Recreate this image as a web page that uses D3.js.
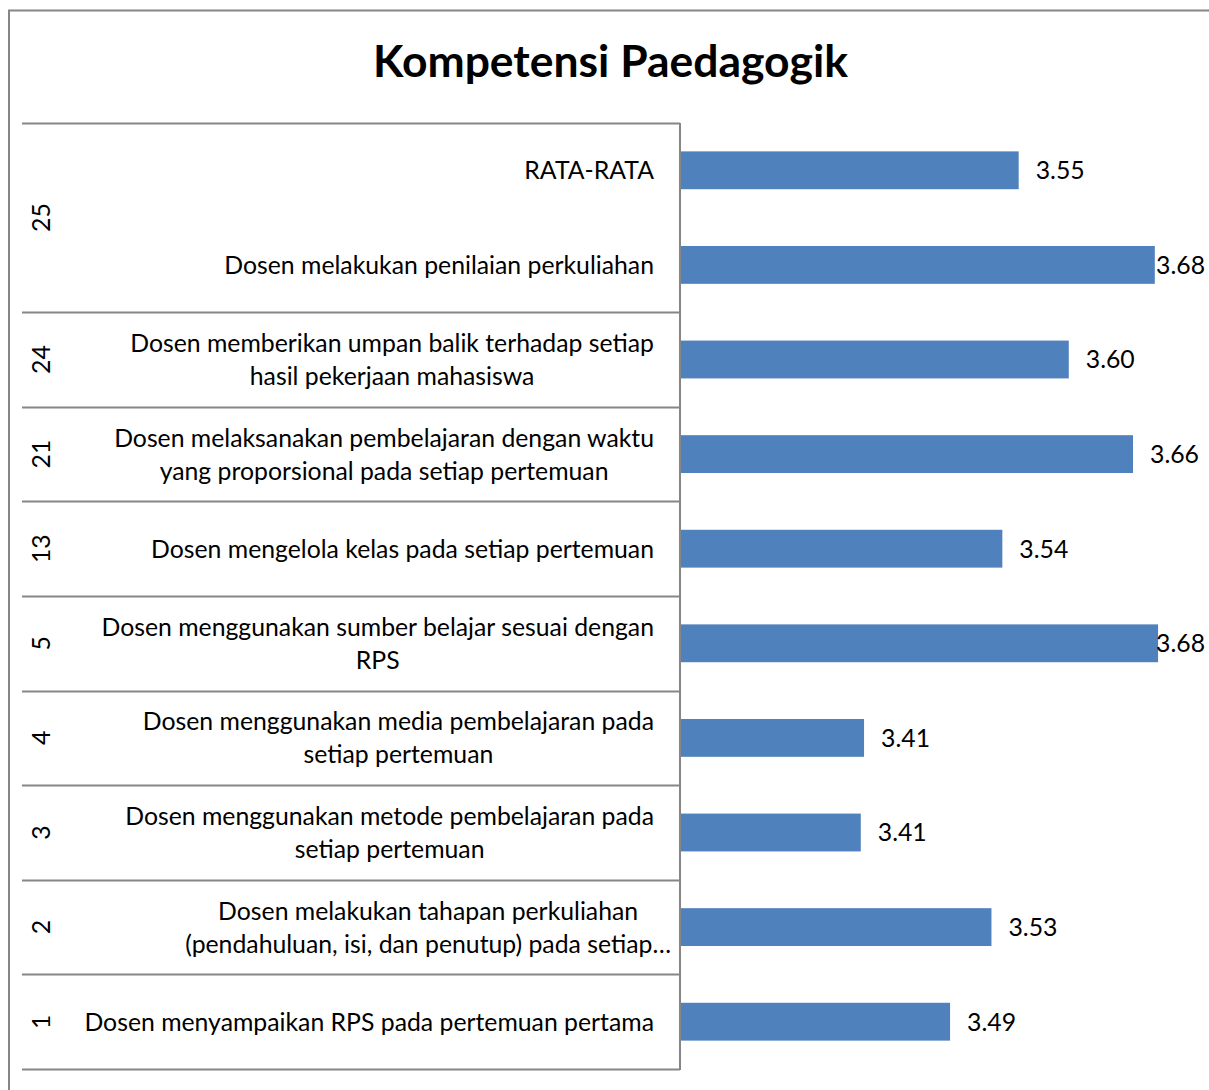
<!DOCTYPE html>
<html>
<head>
<meta charset="utf-8">
<script src="https://cdn.jsdelivr.net/npm/d3@7"></script>
<style>
  html, body { margin: 0; padding: 0; background: #fff; }
  svg { display: block; }
  text { font-family: Lato, "Open Sans", sans-serif; fill: #000; }
</style>
</head>
<body>
<svg id="chart" width="1209" height="1090"></svg>
<script>
// ---- data ----
const title = "Kompetensi Paedagogik";
const groupLabels = ["25", "25", "24", "21", "13", "5", "4", "3", "2", "1"];
const categoryLines = [
  ["RATA-RATA"],
  ["Dosen melakukan penilaian perkuliahan"],
  ["Dosen memberikan umpan balik terhadap setiap", "hasil pekerjaan mahasiswa"],
  ["Dosen melaksanakan pembelajaran dengan waktu", "yang proporsional pada setiap pertemuan"],
  ["Dosen mengelola kelas pada setiap pertemuan"],
  ["Dosen menggunakan sumber belajar sesuai dengan", "RPS"],
  ["Dosen menggunakan media pembelajaran pada", "setiap pertemuan"],
  ["Dosen menggunakan metode pembelajaran pada", "setiap pertemuan"],
  ["Dosen melakukan tahapan perkuliahan", "(pendahuluan, isi, dan penutup) pada setiap\u2026"],
  ["Dosen menyampaikan RPS pada pertemuan pertama"]
];
const values = [3.551, 3.676, 3.597, 3.656, 3.536, 3.679, 3.409, 3.406, 3.526, 3.488];
const xDomain = [3.24, 3.70];

// ---- layout ----
const svg = d3.select("#chart");
const W = 1209, H = 1090;
const plotLeft = 680, plotTop = 123, plotBottom = 1069;
const pxPerUnit = 1089;
const grey = "#868686";
const barColor = "#4F81BD";

// fit fonts (Calibri substitute)
function measure(str, size, weight) {
  const t = svg.append("text").attr("font-size", size).attr("font-weight", weight || "normal").text(str);
  const w = t.node().getComputedTextLength();
  t.remove();
  return w;
}
const labelSize = 20 * 570 / measure("Dosen menyampaikan RPS pada pertemuan pertama", 20);
const titleSize = 40 * 475 / measure(title, 40, "bold");
const capOff = labelSize * 0.36;

const ids = values.map((d, i) => i);
const y = d3.scaleBand().domain(ids).range([plotTop, plotBottom]).paddingInner(0.6).paddingOuter(0.3);
const x = d3.scaleLinear().domain(xDomain).range([plotLeft, plotLeft + (xDomain[1] - xDomain[0]) * pxPerUnit]);
const step = y.step();
const edge = i => y(i) - (step - y.bandwidth()) / 2;

// outer border (top + left)
svg.append("path")
  .attr("d", `M9,${H} V10.5 H${W}`)
  .attr("fill", "none").attr("stroke", grey).attr("stroke-width", 2);

// title
svg.append("text")
  .attr("x", 610.5).attr("y", 77)
  .attr("text-anchor", "middle")
  .attr("font-size", titleSize).attr("font-weight", "bold")
  .text(title);

// groups
const groups = [];
groupLabels.forEach((g, i) => {
  if (groups.length && groups[groups.length - 1].label === g) groups[groups.length - 1].end = i;
  else groups.push({ label: g, start: i, end: i });
});

// separators
const sepYs = groups.map(g => edge(g.start)).concat([edge(groups[groups.length - 1].end) + step]);
svg.selectAll("line.sep").data(sepYs).enter().append("line")
  .attr("class", "sep")
  .attr("x1", 22).attr("x2", plotLeft)
  .attr("y1", d => Math.round(d) + 0.5).attr("y2", d => Math.round(d) + 0.5)
  .attr("stroke", grey).attr("stroke-width", 2);

// axis line
svg.append("line")
  .attr("x1", plotLeft).attr("x2", plotLeft)
  .attr("y1", plotTop).attr("y2", plotBottom + 1)
  .attr("stroke", grey).attr("stroke-width", 2);

// group labels (rotated)
svg.selectAll("text.grp").data(groups).enter().append("text")
  .attr("class", "grp")
  .attr("font-size", labelSize)
  .attr("text-anchor", "middle")
  .attr("transform", g => {
    const cy = (edge(g.start) + edge(g.end) + step) / 2;
    return `translate(${41 + capOff},${cy}) rotate(-90)`;
  })
  .text(g => g.label);

// category labels
const lineH = 33;
ids.forEach(i => {
  const lines = categoryLines[i];
  const cy = y(i) + y.bandwidth() / 2;
  const widths = lines.map(l => measure(l, labelSize));
  const bw = d3.max(widths);
  const truncated = lines.some(l => l.endsWith("\u2026"));
  const right = truncated ? 671 : 654;
  const cx = right - bw / 2;
  lines.forEach((l, k) => {
    svg.append("text")
      .attr("font-size", labelSize)
      .attr("text-anchor", "middle")
      .attr("x", cx)
      .attr("y", cy + (k - (lines.length - 1) / 2) * lineH + capOff)
      .text(l);
  });
});

// bars
svg.selectAll("rect.bar").data(ids).enter().append("rect")
  .attr("class", "bar")
  .attr("x", plotLeft + 1)
  .attr("y", i => y(i))
  .attr("width", i => x(values[i]) - plotLeft - 1)
  .attr("height", y.bandwidth())
  .attr("fill", barColor);

// value labels
const fmt = d3.format(".2f");
ids.forEach(i => {
  const s = fmt(values[i]);
  const w = measure(s, labelSize);
  let lx = x(values[i]) + 17;
  if (lx + w > 1205) lx = 1205 - w;
  svg.append("text")
    .attr("font-size", labelSize)
    .attr("x", lx)
    .attr("y", y(i) + y.bandwidth() / 2 + capOff)
    .text(s);
});
</script>
</body>
</html>
